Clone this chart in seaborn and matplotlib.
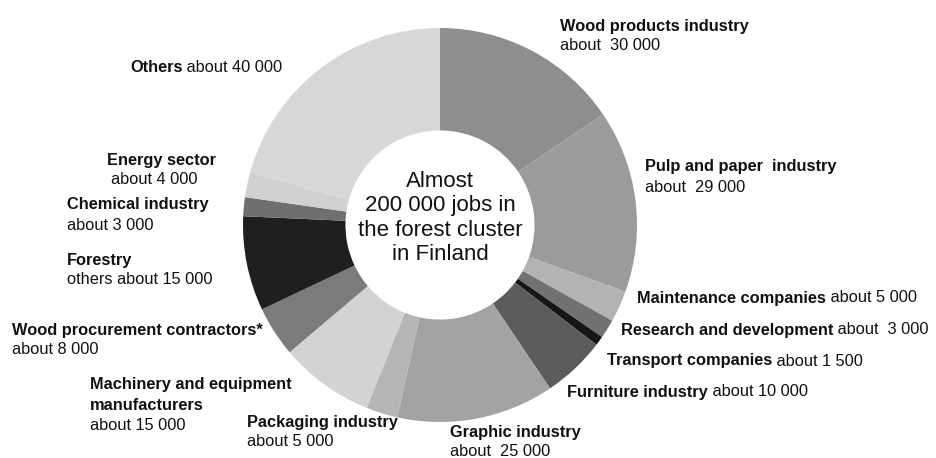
import matplotlib
matplotlib.use("Agg")
import matplotlib.pyplot as plt
import seaborn as sns

# ---- data -------------------------------------------------------------
categories = ["Wood products industry", "Pulp and paper industry",
              "Maintenance companies", "Research and development",
              "Transport companies", "Furniture industry", "Graphic industry",
              "Packaging industry", "Machinery and equipment manufacturers",
              "Wood procurement contractors*", "Forestry", "Chemical industry",
              "Energy sector", "Others"]
jobs = [30000, 29000, 5000, 3000, 1500, 10000, 25000, 5000, 15000, 8000,
        15000, 3000, 4000, 40000]
greys = ["#8e8e8e", "#9b9b9b", "#b3b3b3", "#717171", "#161616", "#5c5c5c",
         "#a3a3a3", "#b5b5b5", "#d3d3d3", "#7b7b7b", "#1f1f1f", "#6f6f6f",
         "#d1d1d1", "#d7d7d7"]

# label texts as printed: bold title lines, then regular value text
title_lines = [["Wood products industry"], ["Pulp and paper  industry"],
               ["Maintenance companies"], ["Research and development"],
               ["Transport companies"], ["Furniture industry"],
               ["Graphic industry"], ["Packaging industry"],
               ["Machinery and equipment", "manufacturers"],
               ["Wood procurement contractors*"], ["Forestry"],
               ["Chemical industry"], ["Energy sector"], ["Others"]]
value_texts = ["about  30 000", "about  29 000", "about 5 000", "about  3 000",
               "about 1 500", "about 10 000", "about  25 000", "about 5 000",
               "about 15 000", "about 8 000", "others about 15 000",
               "about 3 000", "about 4 000", "about 40 000"]
inline_value = [False, False, True, True, True, True, False, False, False,
                False, False, False, False, True]
center_text = "Almost\n200 000 jobs in\nthe forest cluster\nin Finland"

# ---- layout (pixels) ----------------------------------------------------
W, H = 936, 458
CX, CY, R = 440, 225, 197
label_pos = [(560, 26), (645, 167), (637, 298), (621, 330), (607, 361),
             (567, 392), (450, 432), (247, 422), (90, 385), (12, 330),
             (67, 260), (67, 205), (107, 160), (130, 68)]
value_dx = [0, 0, 0, 0, 0, 0, 0, 0, 0, 0, 0, 0, 4, 0]
LINE = 20

sns.set_theme(style="white")
plt.rcParams["font.family"] = ["Liberation Sans", "DejaVu Sans"]

fig = plt.figure(figsize=(W / 100, H / 100), dpi=100)
ax = fig.add_axes([0, 0, 1, 1])
ax.axis("off")


def px(x, y):
    return (x - CX) / R, (CY - y) / R


ax.pie(jobs, colors=greys, startangle=90, counterclock=False, radius=1,
       center=(0, 0), frame=False,
       wedgeprops=dict(width=0.52, linewidth=0, edgecolor="none"))
ax.set_xlim(-CX / R, (W - CX) / R)
ax.set_ylim(-(H - CY) / R, CY / R)
ax.set_aspect("auto")

FS = 11.8
for titles, val, inl, (x, y), dx in zip(title_lines, value_texts, inline_value,
                                        label_pos, value_dx):
    last = None
    for i, t in enumerate(titles):
        last = ax.text(*px(x, y + i * LINE), t, fontsize=FS, fontweight="bold",
                       ha="left", va="center", color="#111111")
    if inl:
        ax.annotate(" " + val, xy=(1, 0.5), xycoords=last, fontsize=FS,
                    ha="left", va="center", color="#111111")
    else:
        ax.text(*px(x + dx, y + len(titles) * LINE), val, fontsize=FS,
                ha="left", va="center", color="#111111")

ax.text(*px(CX, 218), center_text, fontsize=16, ha="center", va="center",
        linespacing=1.2, color="#111111")

fig.savefig("out.png", dpi=100)
